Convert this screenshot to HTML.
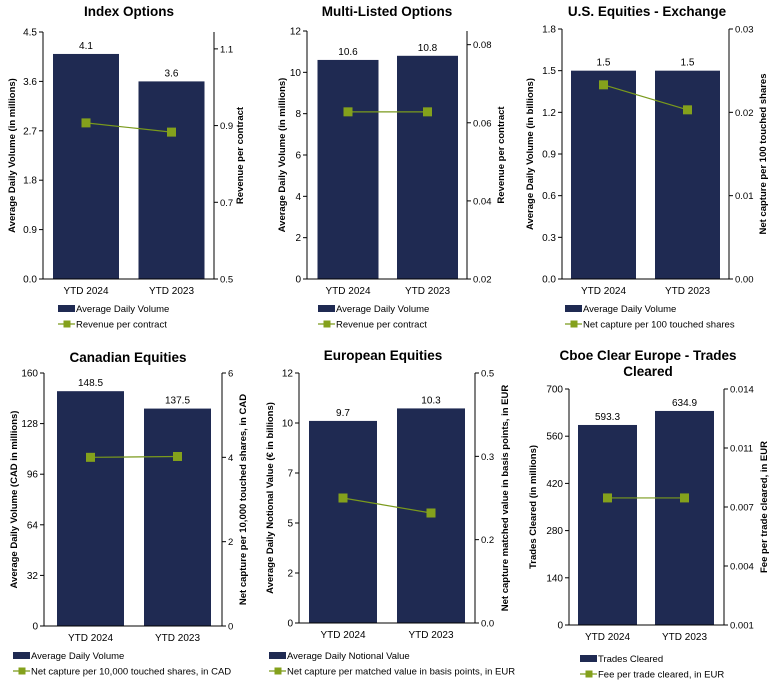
<!DOCTYPE html>
<html><head><meta charset="utf-8"><style>
html,body{margin:0;padding:0;background:#fff;}
svg{display:block;font-family:"Liberation Sans",Arial,sans-serif;}
</style></head><body>
<svg id="c" width="778" height="682" viewBox="0 0 778 682" xmlns="http://www.w3.org/2000/svg"></svg>
<script>
const categories = ["YTD 2024", "YTD 2023"];
const idxBars = [4.1, 3.6];
const idxLine = [0.907, 0.883];
const mloBars = [10.6, 10.8];
const mloLine = [0.0628, 0.0628];
const useBars = [1.5, 1.5];
const useLine = [0.0233, 0.0203];
const canBars = [148.5, 137.5];
const canLine = [4.0, 4.02];
const eurBars = [9.7, 10.3];
const eurLine = [0.25, 0.22];
const cceBars = [593.3, 634.9];
const cceLine = [0.008, 0.008];
const idxLeftTicks = ["0.0","0.9","1.8","2.7","3.6","4.5"];
const idxRightTicks = ["0.5","0.7","0.9","1.1"];
const mloLeftTicks = ["0","2","4","6","8","10","12"];
const mloRightTicks = ["0.02","0.04","0.06","0.08"];
const useLeftTicks = ["0.0","0.3","0.6","0.9","1.2","1.5","1.8"];
const useRightTicks = ["0.00","0.01","0.02","0.03"];
const canLeftTicks = ["0","32","64","96","128","160"];
const canRightTicks = ["0","2","4","6"];
const eurLeftTicks = ["0","2","5","7","10","12"];
const eurRightTicks = ["0.0","0.2","0.3","0.5"];
const cceLeftTicks = ["0","140","280","420","560","700"];
const cceRightTicks = ["0.001","0.004","0.007","0.011","0.014"];

const NS = "http://www.w3.org/2000/svg";
const svg = document.getElementById('c');
function mk(tag, attrs, parent, text){
  const e = document.createElementNS(NS, tag);
  for (const k in attrs) e.setAttribute(k, attrs[k]);
  if (text !== undefined) e.textContent = text;
  (parent||svg).appendChild(e);
  return e;
}

const panels = [
 {id:"index-options", title:["Index Options"], tx:129, ty:16, x0:43, x1:214, top:32, bot:279, cx:[86,171.5], bw:66, lMin:0, lMax:4.5, rMin:0.5, rMax:1.144, rTickVals:[0.5,0.7,0.9,1.1],
  bars:idxBars, line:idxLine, lt:idxLeftTicks, rt:idxRightTicks, lTitle:"Average Daily Volume (in millions)", rTitle:"Revenue per contract", lTx:15, rTx:243, legX:58, legY:309, leg1:"Average Daily Volume", leg2:"Revenue per contract"},
 {id:"multi-listed-options", title:["Multi-Listed Options"], tx:387, ty:16, x0:307, x1:467, top:31, bot:279, cx:[348,427.5], bw:61, lMin:0, lMax:12, rMin:0.02, rMax:0.0835, rTickVals:[0.02,0.04,0.06,0.08],
  bars:mloBars, line:mloLine, lt:mloLeftTicks, rt:mloRightTicks, lTitle:"Average Daily Volume (in millions)", rTitle:"Revenue per contract", lTx:285, rTx:504, legX:318, legY:309, leg1:"Average Daily Volume", leg2:"Revenue per contract"},
 {id:"us-equities-exchange", title:["U.S. Equities - Exchange"], tx:647, ty:16, x0:562, x1:729, top:29, bot:279, cx:[603.5,687.5], bw:65, lMin:0, lMax:1.8, rMin:0, rMax:0.03, rTickVals:[0,0.01,0.02,0.03],
  bars:useBars, line:useLine, lt:useLeftTicks, rt:useRightTicks, lTitle:"Average Daily Volume (in billions)", rTitle:"Net capture per 100 touched shares", lTx:533, rTx:766, legX:565, legY:309, leg1:"Average Daily Volume", leg2:"Net capture per 100 touched shares"},
 {id:"canadian-equities", title:["Canadian Equities"], tx:128, ty:362, x0:44, x1:222, top:373, bot:626, cx:[90.5,177.5], bw:67, lMin:0, lMax:160, rMin:0, rMax:6, rTickVals:[0,2,4,6],
  bars:canBars, line:canLine, lt:canLeftTicks, rt:canRightTicks, lTitle:"Average Daily Volume  (CAD in millions)", rTitle:"Net capture per 10,000 touched shares, in CAD", lTx:17, rTx:246, legX:13, legY:656, leg1:"Average Daily Volume", leg2:"Net capture per 10,000 touched shares, in CAD"},
 {id:"european-equities", title:["European Equities"], tx:383, ty:360, x0:299, x1:475, top:373, bot:623, cx:[343,431], bw:68, lMin:0, lMax:12, rMin:0, rMax:0.5, rTickVals:[0,0.1667,0.3333,0.5],
  bars:eurBars, line:eurLine, lt:eurLeftTicks, rt:eurRightTicks, lTitle:"Average Daily Notional Value (\u20ac in billions)", rTitle:"Net capture matched value in basis points, in EUR", lTx:273, rTx:508, legX:269, legY:656, leg1:"Average Daily Notional Value", leg2:"Net capture per matched value in basis points, in EUR"},
 {id:"cboe-clear-europe", title:["Cboe Clear Europe - Trades","Cleared"], tx:648, ty:360, x0:569, x1:724, top:389, bot:625, cx:[607.5,684.5], bw:59, lMin:0, lMax:700, rMin:0.001, rMax:0.014, rTickVals:[0.001,0.00425,0.0075,0.01075,0.014],
  bars:cceBars, line:cceLine, lt:cceLeftTicks, rt:cceRightTicks, lTitle:"Trades Cleared (in millions)", rTitle:"Fee per trade cleared, in EUR", lTx:536, rTx:767, legX:580, legY:659, leg1:"Trades Cleared", leg2:"Fee per trade cleared, in EUR"}
];

panels.forEach(p => {
  const g = mk('g', {});
  
  
  const yL = v => p.bot - (v - p.lMin) / (p.lMax - p.lMin) * (p.bot - p.top);
  const yR = v => p.bot - (v - p.rMin) / (p.rMax - p.rMin) * (p.bot - p.top);
  const xC = i => p.cx[i];
  const bw = p.bw;
  p.title.forEach((t, k) => {
    const tt = mk('text', {x:p.tx, y:p.ty + k*16, 'text-anchor':'middle', 'font-size':13.5, 'font-weight':'bold', fill:'#000'}, g, t);
    
    
  });
  p.bars.forEach((v, i) => {
    const r = mk('rect', {x:xC(i) - bw/2, y:yL(v), width:bw, height:p.bot - yL(v), fill:'#1f2a52'}, g);
    
    
    const lb = mk('text', {x:xC(i), y:yL(v) - 5, 'text-anchor':'middle', 'font-size':10, fill:'#000'}, g, v.toFixed(1));
    
    
    const xl = mk('text', {x:xC(i), y:p.bot + 15, 'text-anchor':'middle', 'font-size':10, fill:'#000'}, g, categories[i]);
    
    
  });
  mk('line', {x1:p.x0, y1:p.top, x2:p.x0, y2:p.bot, stroke:'#000', 'stroke-width':1}, g);
  mk('line', {x1:p.x1, y1:p.top, x2:p.x1, y2:p.bot, stroke:'#000', 'stroke-width':1}, g);
  mk('line', {x1:p.x0, y1:p.bot, x2:p.x1, y2:p.bot, stroke:'#000', 'stroke-width':1}, g);
  const n = p.lt.length;
  p.lt.forEach((t, i) => {
    const y = p.bot - i / (n - 1) * (p.bot - p.top);
    mk('line', {x1:p.x0 - 4, y1:y, x2:p.x0, y2:y, stroke:'#000'}, g);
    const tl = mk('text', {x:p.x0 - 6, y:y + 3.5, 'text-anchor':'end', 'font-size':10, fill:'#000'}, g, t);
    
    
  });
  p.rt.forEach((t, i) => {
    const y = yR(p.rTickVals[i]);
    mk('line', {x1:p.x1, y1:y, x2:p.x1 + 4, y2:y, stroke:'#000'}, g);
    const tl = mk('text', {x:p.x1 + 6, y:y + 3.5, 'text-anchor':'start', 'font-size':9.5, fill:'#000'}, g, t);
    
    
  });
  const cy = (p.top + p.bot) / 2;
  const lt = mk('text', {x:p.lTx, y:cy, 'text-anchor':'middle', 'font-size':9.5, 'font-weight':'bold', fill:'#000', transform:`rotate(-90 ${p.lTx} ${cy})`}, g, p.lTitle);
  
  
  const rt = mk('text', {x:p.rTx, y:cy, 'text-anchor':'middle', 'font-size':9.5, 'font-weight':'bold', fill:'#000', transform:`rotate(-90 ${p.rTx} ${cy})`}, g, p.rTitle);
  
  
  const pts = p.line.map((v, i) => xC(i) + ',' + yR(v)).join(' ');
  const pl = mk('polyline', {points:pts, fill:'none', stroke:'#7a9a1c', 'stroke-width':1.2}, g);
  
  
  p.line.forEach((v, i) => {
    const m = mk('rect', {x:xC(i) - 4.5, y:yR(v) - 4.5, width:9, height:9, fill:'#84a11c'}, g);
    
    
  });
  const lg = mk('g', {}, g);
  
  
  mk('rect', {x:p.legX, y:p.legY - 4, width:17, height:7, fill:'#1f2a52'}, lg);
  const l1 = mk('text', {x:p.legX + 18, y:p.legY + 3, 'font-size':9.5, fill:'#000'}, lg, p.leg1);
  
  
  const ly = p.legY + 15;
  mk('line', {x1:p.legX, y1:ly, x2:p.legX + 17, y2:ly, stroke:'#7a9a1c', 'stroke-width':1.2}, lg);
  mk('rect', {x:p.legX + 5.5, y:ly - 3.5, width:7, height:7, fill:'#84a11c'}, lg);
  const l2 = mk('text', {x:p.legX + 18, y:ly + 3.5, 'font-size':9.5, fill:'#000'}, lg, p.leg2);
  
  
});
</script>
</body></html>
